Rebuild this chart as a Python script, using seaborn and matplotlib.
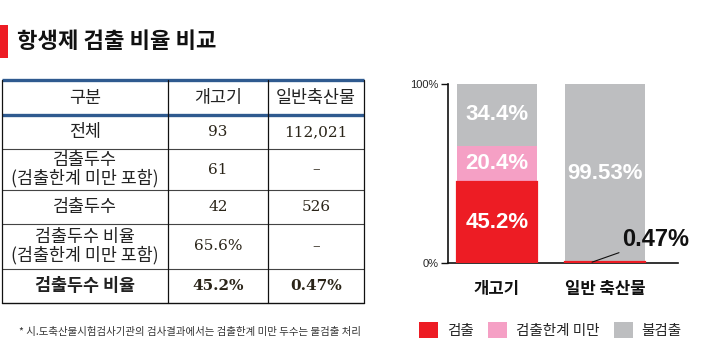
import pandas as pd
import seaborn as sns
import matplotlib.pyplot as plt
from matplotlib.patches import Patch, Rectangle

# chart data
categories = ['개고기', '일반 축산물']
detected = [45.2, 0.47]
below_limit = [20.4, 0.0]
not_detected = [34.4, 99.53]
series_names = ['검출', '검출한계 미만', '불검출']

# table data
table_header = ['구분', '개고기', '일반축산물']
row_labels = ['전체', '검출두수\n(검출한계 미만 포함)', '검출두수',
              '검출두수 비율\n(검출한계 미만 포함)', '검출두수 비율']
dog_values = ['93', '61', '42', '65.6%', '45.2%']
livestock_values = ['112,021', '–', '526', '–', '0.47%']

title = '항생제 검출 비율 비교'
footnote = '* 시.도축산물시험검사기관의 검사결과에서는 검출한계 미만 두수는 불검출 처리'

RED = '#ED1C24'
PINK = '#F5A0C5'
GRAY = '#BDBEC0'
BLUE = '#2F5A8F'
KR = ['Noto Sans CJK KR', 'DejaVu Sans']


def draw_table(ax):
    # pixel-based overlay: x 0..720, y 0..360 (top down)
    col_x = [2, 168, 268, 364]
    row_y = [80, 115, 149, 190, 224, 269, 303]
    for y in row_y[2:-1]:
        ax.plot([col_x[0], col_x[-1]], [y, y], color='#444444', lw=0.8)
    ax.plot([col_x[0], col_x[-1]], [row_y[-1], row_y[-1]], color='#111111', lw=1.0)
    for y in row_y[:2]:
        ax.plot([col_x[0], col_x[-1]], [y, y], color=BLUE, lw=2.4, solid_capstyle='butt')
    for x in col_x:
        ax.plot([x, x], [row_y[0], row_y[-1]], color='#111111', lw=0.9)

    centers = [(col_x[i] + col_x[i + 1]) / 2 for i in range(3)]
    ymid = (row_y[0] + row_y[1]) / 2
    for cx, txt in zip(centers, table_header):
        ax.text(cx, ymid, txt, ha='center', va='center', fontsize=12.5,
                family=KR, color='#222222')

    last = len(row_labels) - 1
    for i, (lab, v1, v2) in enumerate(zip(row_labels, dog_values, livestock_values)):
        cy = (row_y[i + 1] + row_y[i + 2]) / 2
        w = 'bold' if i == last else 'normal'
        ax.text(centers[0], cy, lab, ha='center', va='center', fontsize=12.5,
                family=KR, color='#222222', linespacing=1.0, weight=w)
        for cx, v in zip(centers[1:], [v1, v2]):
            ax.text(cx, cy, v, ha='center', va='center', fontsize=11,
                    family=['DejaVu Serif'], color='#2a2418', weight=w)


def main():
    sns.set_theme(style='white')
    plt.rcParams['font.family'] = KR

    fig = plt.figure(figsize=(7.2, 3.6), dpi=100)

    # overlay for title, table and footnote
    over = fig.add_axes([0, 0, 1, 1])
    over.set_xlim(0, 720)
    over.set_ylim(360, 0)
    over.axis('off')
    over.add_patch(Rectangle((0, 25), 8, 33, color=RED, lw=0))
    over.text(17, 42, title, ha='left', va='center', fontsize=16,
              weight='bold', color='#111111', family=KR)
    draw_table(over)
    over.text(19, 332, footnote, ha='left', va='center', fontsize=7.5,
              color='#333333', family=KR)

    # stacked bar chart
    ax = fig.add_axes([448 / 720, 97 / 360, 230 / 720, 179 / 360])
    df = pd.DataFrame({
        'category': categories,
        'detected': detected,
        'below_limit': below_limit,
        'not_detected': not_detected,
    })
    df['top'] = df['detected'] + df['below_limit'] + df['not_detected']
    df['mid'] = df['detected'] + df['below_limit']

    sns.barplot(data=df, x='category', y='top', color=GRAY, width=0.74,
                saturation=1, ax=ax, linewidth=0)
    sns.barplot(data=df, x='category', y='mid', color=PINK, width=0.74,
                saturation=1, ax=ax, linewidth=0)
    sns.barplot(data=df, x='category', y='detected', color=RED, width=0.74,
                saturation=1, ax=ax, linewidth=1.6, edgecolor=RED)

    # segment labels
    for i in range(len(categories)):
        base = 0
        for val in [detected[i], below_limit[i], not_detected[i]]:
            if val > 5:
                ax.text(i, base + val / 2, f'{val}%', ha='center', va='center',
                        color='white', fontsize=16, family=['Liberation Sans'],
                        weight='bold')
            elif val > 0:
                ax.annotate(f'{val}%', xy=(i - 0.12, base + val),
                            xytext=(i + 0.16, 13.0), ha='left', va='center',
                            fontsize=17, family=['Liberation Sans'],
                            color='#111111', weight='bold',
                            arrowprops=dict(arrowstyle='-', color='#111111', lw=0.8,
                                            shrinkA=0, shrinkB=0))
            base += val

    ax.set_xlim(-0.454, 1.676)
    ax.set_ylim(0, 100)
    ax.set_yticks([0, 100])
    ax.set_yticklabels(['0%', '100%'], fontsize=8, family=['Liberation Sans'])
    ax.set_xlabel('')
    ax.set_ylabel('')
    ax.tick_params(axis='y', length=5, width=1, color='#111111', pad=2, left=True)
    ax.tick_params(axis='x', length=0, pad=12)
    for lab in ax.get_xticklabels():
        lab.set_fontsize(12)
        lab.set_fontweight('bold')
        lab.set_color('#111111')
    sns.despine(ax=ax)
    for s in ['left', 'bottom']:
        ax.spines[s].set_color('#111111')
        ax.spines[s].set_linewidth(1.2)
    # keep the thin red strip visible above the baseline
    ax.spines['bottom'].set_zorder(0.5)

    handles = [Patch(facecolor=c, edgecolor='none') for c in [RED, PINK, GRAY]]
    fig.legend(handles, series_names, loc='center left',
               bbox_to_anchor=(419 / 720, 1 - 330 / 360), ncol=3, frameon=False,
               fontsize=10.5, handlelength=1.3, handleheight=1.3,
               handletextpad=0.6, columnspacing=1.0, borderpad=0,
               borderaxespad=0)

    fig.savefig('out.png', dpi=100)


if __name__ == '__main__':
    main()
